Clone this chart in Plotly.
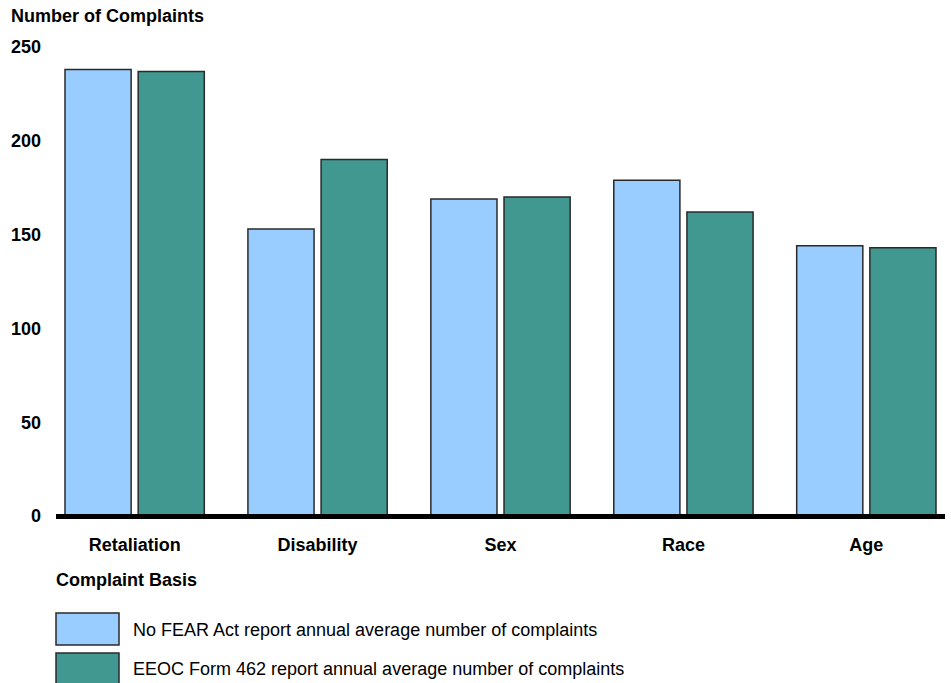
import plotly.graph_objects as go

categories = ["Retaliation", "Disability", "Sex", "Race", "Age"]
no_fear_values = [238, 153, 169, 179, 144]
form462_values = [237, 190, 170, 162, 143]
series_names = [
    "No FEAR Act report annual average number of complaints",
    "EEOC Form 462 report annual average number of complaints",
]
y_ticks = [0, 50, 100, 150, 200, 250]

LIGHT = "#99CCFF"
TEAL = "#409891"
EDGE = "#2a2a2a"
FONT = "Liberation Sans, Arial, sans-serif"
FS = 18

W, H = 951, 683
L, R, T, B = 56, 6, 47, 167
PW, PH = W - L - R, H - T - B

def px_x(x):
    return (x - L) / PW

def px_y(y):
    return (H - B - y) / PH

fig = go.Figure()
for name, vals, col in [(series_names[0], no_fear_values, LIGHT),
                        (series_names[1], form462_values, TEAL)]:
    fig.add_trace(go.Bar(
        x=categories, y=vals, name=name,
        marker=dict(color=col, line=dict(color=EDGE, width=1.5)),
        showlegend=False,
    ))

fig.update_layout(
    width=W, height=H,
    margin=dict(l=L, r=R, t=T, b=B),
    paper_bgcolor="white", plot_bgcolor="white",
    barmode="group", bargap=0.20, bargroupgap=0.096,
    font=dict(family=FONT, size=FS, color="black"),
    xaxis=dict(
        range=[-0.43, 4.43], showgrid=False, zeroline=False,
        showline=False, ticks="", ticklabelstandoff=16,
        tickfont=dict(family=FONT, size=FS, weight="bold", color="black"),
    ),
    yaxis=dict(
        range=[0, 250], tickvals=y_ticks, showgrid=False, zeroline=False,
        showline=False, ticks="", ticklabelstandoff=14,
        tickfont=dict(family=FONT, size=FS, weight="bold", color="black"),
    ),
)

# thick baseline
fig.add_shape(type="line", xref="paper", yref="paper", x0=0, x1=1,
              y0=px_y(516.5), y1=px_y(516.5),
              line=dict(color="black", width=5), layer="above")

# axis titles
fig.add_annotation(text="<b>Number of Complaints</b>", xref="paper", yref="paper",
                   x=px_x(9), y=px_y(16), xanchor="left", yanchor="middle",
                   showarrow=False, font=dict(family=FONT, size=FS, color="black"))
fig.add_annotation(text="<b>Complaint Basis</b>", xref="paper", yref="paper",
                   x=px_x(54), y=px_y(580), xanchor="left", yanchor="middle",
                   showarrow=False, font=dict(family=FONT, size=FS, color="black"))

# custom legend
legend_rows = [(LIGHT, 613, 645, 630), (TEAL, 653, 684, 669)]
for (col, y0, y1, yt), name in zip(legend_rows, series_names):
    fig.add_shape(type="rect", xref="paper", yref="paper",
                  x0=px_x(56), x1=px_x(119), y0=px_y(y1), y1=px_y(y0),
                  fillcolor=col, line=dict(color=EDGE, width=1.5))
    fig.add_annotation(text=name, xref="paper", yref="paper",
                       x=px_x(131), y=px_y(yt), xanchor="left", yanchor="middle",
                       showarrow=False, font=dict(family=FONT, size=FS, color="black"))

fig.write_html("out.html")
